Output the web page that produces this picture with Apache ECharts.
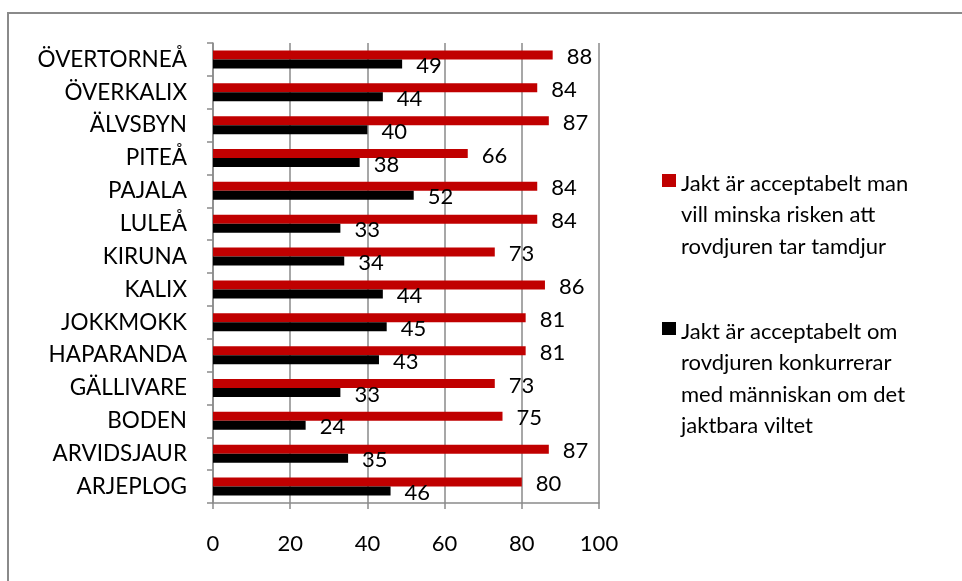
<!DOCTYPE html>
<html>
<head>
<meta charset="utf-8">
<script src="https://cdn.jsdelivr.net/npm/echarts@6/dist/echarts.min.js"></script>
<style>
html,body{margin:0;padding:0;background:#fff;}
#chart{width:962px;height:581px;}
</style>
</head>
<body>
<div id="chart"></div>
<script>
// Categories listed bottom -> top (category axis starts at bottom)
const categories = ['ARJEPLOG','ARVIDSJAUR','BODEN','GÄLLIVARE','HAPARANDA','JOKKMOKK','KALIX','KIRUNA','LULEÅ','PAJALA','PITEÅ','ÄLVSBYN','ÖVERKALIX','ÖVERTORNEÅ'];
const tamdjurValues = [80, 87, 75, 73, 81, 81, 86, 73, 84, 84, 66, 87, 84, 88];
const viltValues = [46, 35, 24, 33, 43, 45, 44, 34, 33, 52, 38, 40, 44, 49];
const xTicks = [0, 20, 40, 60, 80, 100];

const nameTamdjur = 'Jakt är acceptabelt man vill minska risken att rovdjuren tar tamdjur';
const nameVilt = 'Jakt är acceptabelt om rovdjuren konkurrerar med människan om det jaktbara viltet';
const legendLines = {};
legendLines[nameTamdjur] = ['Jakt är acceptabelt man', 'vill minska risken att', 'rovdjuren tar tamdjur'];
legendLines[nameVilt] = ['Jakt är acceptabelt om', 'rovdjuren konkurrerar', 'med människan om det', 'jaktbara viltet'];

const FONT = 'Lato, "Open Sans", sans-serif';
const LH = 31.5;

const chart = echarts.init(document.getElementById('chart'));

// Legend item: icon box as tall as the wrapped text, square drawn near its top
function legendFor(name, color, top) {
  const n = legendLines[name].length;
  const h = LH * n;
  const iconPath = 'path://M0,0L14,0M0,' + h + 'L14,' + h + 'M0,6L14,6L14,19L0,19Z';
  return {
    orient: 'vertical',
    left: 662,
    top: top,
    itemWidth: 14,
    itemHeight: h,
    itemGap: 0,
    selectedMode: false,
    padding: 0,
    formatter: function (nm) { return legendLines[nm].join('\n'); },
    textStyle: {
      fontFamily: FONT,
      fontSize: 22,
      lineHeight: LH,
      color: '#000'
    },
    data: [{ name: name, icon: iconPath, itemStyle: { color: color, borderWidth: 0 } }]
  };
}

const labelCommon = {
  show: true,
  position: 'right',
  distance: 14,
  offset: [0, 2],
  fontFamily: FONT,
  fontSize: 22,
  color: '#000'
};

chart.setOption({
  animation: false,
  backgroundColor: '#fff',
  graphic: [{
    type: 'rect',
    shape: { x: 8, y: 13, width: 2000, height: 2000 },
    style: { fill: 'none', stroke: '#8a8a8a', lineWidth: 2 },
    silent: true
  }],
  legend: [
    legendFor(nameTamdjur, '#C00000', 168),
    legendFor(nameVilt, '#000000', 316)
  ],
  grid: { left: 213, right: 363, top: 43, bottom: 78, containLabel: false },
  xAxis: {
    type: 'value',
    min: 0,
    max: 100,
    interval: 20,
    axisLine: { show: true, lineStyle: { color: '#8a8a8a', width: 1.5 } },
    axisTick: { show: true, length: 6, lineStyle: { color: '#8a8a8a', width: 1.5 } },
    splitLine: { show: true, lineStyle: { color: '#8a8a8a', width: 1.5 } },
    axisLabel: {
      margin: 30,
      fontFamily: FONT,
      fontSize: 22,
      color: '#000',
      formatter: function (v) { return xTicks.indexOf(v) >= 0 ? String(v) : ''; }
    }
  },
  yAxis: {
    type: 'category',
    data: categories,
    axisLine: { show: true, lineStyle: { color: '#8a8a8a', width: 1.5 } },
    axisTick: { show: true, length: 6, lineStyle: { color: '#8a8a8a', width: 1.5 } },
    axisLabel: {
      margin: 26,
      fontFamily: FONT,
      fontSize: 22.5,
      color: '#000',
      interval: 0
    }
  },
  series: [
    {
      name: nameTamdjur,
      type: 'bar',
      data: tamdjurValues,
      barWidth: 9,
      barGap: '0%',
      itemStyle: { color: '#C00000' },
      label: labelCommon
    },
    {
      name: nameVilt,
      type: 'bar',
      data: viltValues,
      barWidth: 9,
      barGap: '0%',
      itemStyle: { color: '#000000' },
      label: labelCommon
    }
  ]
});
</script>
</body>
</html>
